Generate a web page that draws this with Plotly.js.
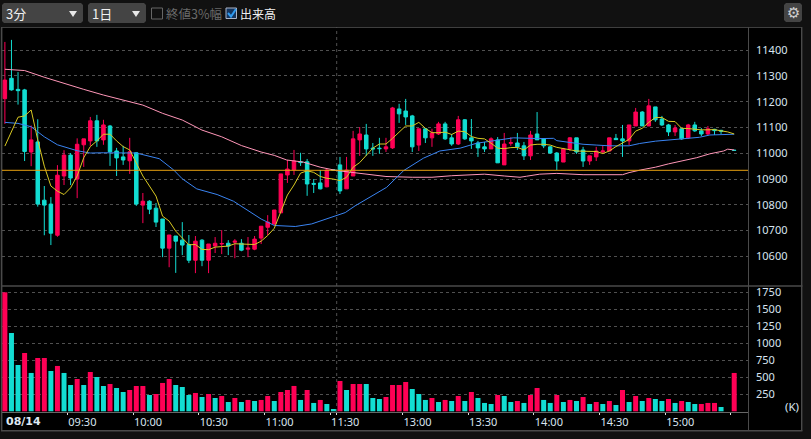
<!DOCTYPE html>
<html><head><meta charset="utf-8">
<script src="https://cdn.plot.ly/plotly-3.0.1.min.js"></script>
<style>html,body{margin:0;padding:0;background:#111;overflow:hidden}#c{width:811px;height:439px}</style>
</head><body><div id="c"></div>
<script>
// ---- data (one entry per 3-minute bar) ----
const openP=[11212,11291,11248,11246,11005,11044,10818,10803,10682,10912,
10993,10900,11033,11048,11126,11052,11106,11009,10986,10971,
11002,10799,10814,10787,10745,10632,10679,10663,10646,10585,
10663,10585,10640,10648,10651,10655,10651,10628,10628,10671,
10713,10726,10769,10916,10936,10967,10967,10883,10885,10870,
10936,10955,10862,10912,11052,11071,11020,11020,11017,11021,
11172,11164,11145,11032,11095,11060,11075,11114,11060,11036,
11130,11060,11040,11025,11017,11052,10955,11039,11040,11029,
10990,11075,11056,11025,11001,10966,11017,11060,11013,10970,
10986,11005,11009,11058,11056,11048,11106,11160,11106,11180,
11133,11110,11083,11095,11060,11110,11087,11075,11093,11089,null,11012];
const highP=[11432,11440,11315,11250,11108,11132,10873,10830,10954,11012,
11001,11058,11056,11141,11149,11130,11110,11021,11029,11060,
11005,10846,10818,10807,10745,10683,10679,10733,10683,10679,
10667,10648,10675,10702,10663,10667,10667,10675,10679,10717,
10760,10780,10920,10974,11013,11002,10978,10900,10935,10939,
10936,10986,10986,11087,11102,11114,11040,11060,11060,11180,
11192,11211,11149,11095,11098,11095,11122,11122,11075,11145,
11133,11133,11048,11044,11062,11063,11079,11062,11079,11044,
11087,11160,11058,11029,11005,11021,11063,11060,11025,10990,
11025,11029,11060,11075,11110,11110,11176,11164,11211,11180,
11145,11114,11110,11098,11114,11122,11098,11106,11095,11091,null,11013];
const lowP=[11114,11243,11189,10970,10950,10793,10682,10644,10676,10877,
10877,10826,10947,11029,11025,11033,10951,10912,10955,10920,
10796,10729,10764,10714,10597,10558,10536,10605,10574,10535,
10562,10535,10613,10609,10605,10593,10620,10597,10624,10648,
10683,10720,10769,10885,10916,10951,10835,10846,10860,10868,
10934,10842,10862,10912,10990,10990,10990,10998,11005,11017,
11118,11110,11005,11009,11040,11025,11071,11052,11029,11032,
11052,11017,10986,11005,11017,10963,10955,11029,11013,10974,
10974,11052,11020,10998,10935,10966,11009,10998,10947,10955,
10970,10998,11009,11052,10986,11032,11106,11106,11106,11122,
11106,11067,11067,11052,11056,11083,11067,11071,11071,11075,null,11011];
const closeP=[11284,11246,11243,11007,11052,10803,10799,10690,10915,10993,
10904,11035,11056,11126,11048,11110,11006,10982,10974,11006,
10803,10814,10783,10733,10632,10683,10659,10644,10585,10659,
10585,10648,10651,10650,10640,10659,10624,10632,10667,10717,
10733,10780,10920,10939,10970,10964,10881,10880,10862,10935,
10934,10854,10935,11056,11075,11017,11017,11018,11025,11176,
11153,11141,11025,11095,11060,11079,11114,11056,11036,11130,
11056,11048,11021,11017,11056,10963,11036,11041,11025,10990,
11071,11052,11029,11001,10970,11017,11060,11005,10970,10990,
11009,11009,11060,11053,11048,11110,11160,11106,11184,11130,
11110,11083,11098,11056,11110,11087,11075,11095,11088,11086,null,11011];
const volumes=[1750,1152,681,858,564,784,784,593,667,564,
387,475,387,578,505,372,402,343,284,314,
372,372,240,255,417,475,387,358,240,270,
211,255,196,225,137,196,137,167,152,167,
225,152,284,314,373,167,314,123,167,108,
34,446,314,402,402,402,196,181,211,387,
387,431,328,255,167,196,137,167,152,225,
152,284,196,123,108,240,225,137,152,123,
240,343,167,123,240,137,167,152,211,108,
137,108,152,93,314,137,225,152,196,181,
152,181,123,152,137,108,108,123,123,64,null,564];
// r = red volume bar, t = teal volume bar
const volumeSide=["rttrtrrtrt","trtrttrttr","rrtrrrtttr","trtrtrtrtr","rtrrrtrtrt","trtrrtttrr",
"rrtttrtrtr","trtttrttrt","rrttrtrtrt","rtrtrtrtrt","trtrttrrrt","tr"].join("");
const maShort=[11028,11084,11140,11145,11168,11052,10950,10873,10853,10840,
10866,10912,10983,11026,11048,11074,11074,11048,11026,11013,
10962,10912,10873,10834,10756,10737,10698,10672,10645,10646,
10627,10626,10636,10638,10640,10649,10648,10646,10646,10659,
10681,10709,10770,10838,10877,10923,10932,10926,10910,10903,
10900,10894,10907,10946,10964,10994,11020,11036,11036,11058,
11084,11106,11106,11120,11097,11080,11080,11082,11073,11086,
11084,11065,11058,11056,11039,11020,11018,11022,11023,11013,
11032,11035,11035,11032,11023,11018,11013,11009,11008,11007,
11007,10999,11009,11026,11039,11054,11086,11097,11120,11139,
11139,11124,11123,11097,11096,11093,11091,11091,11092,11087,11083,11075];
const maMidBars=[0,2,4,6,8,9,11,13,15,20,22,23.5,25.7,27,29.2,32.3,34.8,36.6,39,41,44.2,46.7,49.2,51.8,53.3,55.6,58.1,60.7,63.7,66.2,69.3,71.8,74.9,77.4,81.4,83.5,84,86,88,90,92,95,96.6,99,102.7,105.7,107.3,111];
const maMid=[11120,11116,11103,11064,11033,11025,11010,11001,11002,11001,10989,10979,10935,10901,10862,10840,10814,10783,10745,10720,10716,10726,10747,10770,10796,10829,10868,10933,10981,11009,11020,11039,11052,11060,11057,11058,11049,11043,11035,11032,11029,11029,11038,11047,11056,11062,11071,11074];
const maLongBars=[0,3,6,9,12,15,18,21,24,27,30,33,36,39,41,42.9,45.4,48,50.5,53,55.6,58,62,65,68,70.8,73,76,78.4,79.4,81.4,84,88,94,95,96.7,99,101,103.4,105.3,107.3,109.4,110,111];
const maLong=[11326,11321,11295,11271,11248,11226,11207,11187,11155,11129,11090,11064,11030,11005,10992,10974,10966,10946,10933,10926,10916,10910,10907,10907,10913,10915,10919,10912,10907,10911,10919,10922,10917,10917,10925,10935,10946,10959,10973,10983,10998,11009,11016,11013];
const prevClose=[10934,10934];
const priceTicks=[10600,10700,10800,10900,11000,11100,11200,11300,11400];
const volumeTicks=[250,500,750,1000,1250,1500,1750];
const timeTickBars=[9.5,19.5,29.5,39.5,49.5,50.5,60.5,70.5,80.5,90.5,100.5,110.5];
const timeTickLabels=["09:30","10:00","10:30","11:00","11:30","","13:00","13:30","14:00","14:30","15:00",""];
const dateLabel="08/14";
const sessionBreak=50.5;

// ---- styles ----
const RED="#ff0055",TEAL="#12ddd2",W=811,H=439;
const FONT='"Noto Sans","Open Sans",sans-serif',CJK='"Noto Sans CJK JP",sans-serif';
const bars=openP.map((_,i)=>i);
const xr=[-0.44,113.1];
const px=x=>x/W, py=y=>1-y/H;
const rectS=(x0,y0,x1,y1,fill,line,lw)=>({type:"rect",xref:"paper",yref:"paper",x0:px(x0),x1:px(x1),y0:py(y0),y1:py(y1),fillcolor:fill,line:{color:line||fill,width:lw===undefined?0:lw},layer:"below"});
const round=(x0,y0,x1,y1,r,fill)=>{
  const X=v=>px(v).toFixed(5),Y=v=>py(v).toFixed(5);
  const p=`M${X(x0+r)},${Y(y0)} L${X(x1-r)},${Y(y0)} L${X(x1)},${Y(y0+r)} L${X(x1)},${Y(y1-r)} L${X(x1-r)},${Y(y1)} L${X(x0+r)},${Y(y1)} L${X(x0)},${Y(y1-r)} L${X(x0)},${Y(y0+r)} Z`;
  return {type:"path",xref:"paper",yref:"paper",path:p,fillcolor:fill,line:{width:0},layer:"below"};
};
const poly=(pts,fill,line)=>{
  const p=pts.map((q,i)=>(i?"L":"M")+px(q[0]).toFixed(5)+","+py(q[1]).toFixed(5)).join(" ")+(fill?" Z":"");
  return {type:"path",xref:"paper",yref:"paper",path:p,fillcolor:fill||"rgba(0,0,0,0)",line:line||{width:0},layer:"above"};
};
const note=(t,x,y,size,color,anchor,fam,bold)=>({text:bold?"<b>"+t+"</b>":t,xref:"paper",yref:"paper",x:px(x),y:py(y),xanchor:anchor||"left",yanchor:"middle",showarrow:false,font:{size,color,family:fam||FONT}});

const traces=[
 {type:"candlestick",x:bars,open:openP,high:highP,low:lowP,close:closeP,xaxis:"x2",yaxis:"y",whiskerwidth:0,
  increasing:{line:{color:RED,width:1},fillcolor:RED},decreasing:{line:{color:TEAL,width:1},fillcolor:TEAL},hoverinfo:"skip"},
 {type:"scatter",mode:"lines",x:maLongBars,y:maLong,xaxis:"x2",yaxis:"y",line:{color:"#ff96b8",width:1}},
 {type:"scatter",mode:"lines",x:maMidBars,y:maMid,xaxis:"x2",yaxis:"y",line:{color:"#3a84f2",width:1}},
 {type:"scatter",mode:"lines",x:bars,y:maShort,xaxis:"x2",yaxis:"y",line:{color:"#d9c923",width:1}},
 {type:"scatter",mode:"lines",x:xr,y:prevClose,xaxis:"x2",yaxis:"y",line:{color:"#e8a010",width:1}},
 {type:"bar",x:bars,y:volumes,xaxis:"x",yaxis:"y2",marker:{color:bars.map(i=>volumeSide[i]==="r"?RED:TEAL),line:{width:0}}}
];
const tickFont={family:FONT,size:11,color:"#d8e4f0"};
const layout={
 width:W,height:H,margin:{l:0,r:0,t:0,b:0},paper_bgcolor:"#111111",plot_bgcolor:"rgba(0,0,0,0)",showlegend:false,hovermode:false,bargap:0.24,boxgap:0.24,
 xaxis:{domain:[px(2),px(748)],range:xr,anchor:"y2",showgrid:false,zeroline:false,showline:true,linecolor:"#666",linewidth:1,
   tickmode:"array",tickvals:timeTickBars,ticktext:timeTickLabels,ticks:"outside",ticklen:2,tickcolor:"#ddd",tickwidth:1,ticklabelposition:"outside right",tickfont:tickFont},
 xaxis2:{domain:[px(2),px(748)],range:xr,anchor:"y",showgrid:false,zeroline:false,showticklabels:false,ticks:"",rangeslider:{visible:false}},
 yaxis:{domain:[py(285),py(27)],range:[10489,11490],side:"right",anchor:"x2",tickmode:"array",tickvals:priceTicks,ticktext:priceTicks.map(String),
   showgrid:true,gridcolor:"#505050",griddash:"dot",gridwidth:1,zeroline:false,ticks:"",tickfont:tickFont,ticklabelstandoff:7},
 yaxis2:{domain:[py(412),py(287)],range:[-10,1828],side:"right",anchor:"x",tickmode:"array",tickvals:volumeTicks,ticktext:volumeTicks.map(String),
   showgrid:true,gridcolor:"#505050",griddash:"dot",gridwidth:1,zeroline:false,ticks:"",tickfont:tickFont,ticklabelstandoff:7},
 shapes:[
  rectS(2,27,802,431,"#000000"),
  rectS(2,27,802,27.7,"#555555"),
  rectS(1,27,2.4,431,"#4a4a4a"),
  rectS(801,27,802.4,431,"#4a4a4a"),
  rectS(1,285.2,802.4,286.8,"#4a4a4a"),
  rectS(1,430,802.4,431.6,"#4a4a4a"),
  rectS(748,27,749,431,"#4a4a4a"),
  {type:"line",xref:"x2",yref:"paper",x0:sessionBreak,x1:sessionBreak,y0:py(412),y1:py(27),line:{color:"#505050",width:1,dash:"dot"},layer:"below"},
  round(2,3,83,23,2,"#444444"),
  round(88,3,146,23,2,"#444444"),
  poly([[69,11],[77,11],[73,17]],"#e8e8e8"),
  poly([[132,11],[140,11],[136,17]],"#e8e8e8"),
  {type:"rect",xref:"paper",yref:"paper",x0:px(151.5),x1:px(162.5),y0:py(8),y1:py(19),line:{color:"#666666",width:1},fillcolor:"rgba(0,0,0,0)"},
  {type:"rect",xref:"paper",yref:"paper",x0:px(226),x1:px(236.5),y0:py(8),y1:py(18.5),line:{color:"#aab4c8",width:1},fillcolor:"#14345c"},
  poly([[228,13],[231,16.5],[236,9]],null,{color:"#2f9bf0",width:2}),
  round(784,3,802,22,2,"#444444")
 ],
 annotations:[
  note("3分",4,13.5,13,"#f0f0f0","left",CJK),
  note("1日",90,13.5,13,"#f0f0f0","left",CJK),
  note("終値3%幅",164,13.5,12.5,"#6a6a6a","left",CJK),
  note("出来高",238,13.5,12,"#f0f0f0","left",CJK),
  note("⚙",793,12.5,15,"#cfcfcf","center",'"DejaVu Sans"'),
  note(dateLabel,3.5,421.5,11,"#dfe8f2","left",'"DejaVu Sans"',true),
  note("(K)",783,406,11.5,"#d8e4f0","left")
 ]
};
Plotly.newPlot("c",traces,layout,{displayModeBar:false,staticPlot:true});
</script></body></html>
